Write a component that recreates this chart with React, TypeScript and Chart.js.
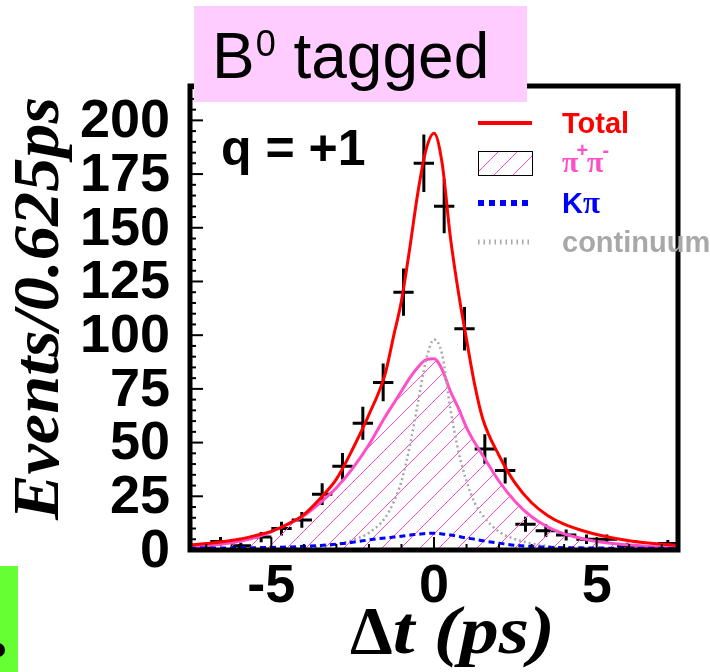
import React, { useEffect, useRef } from "react";
import { Chart, registerables } from "chart.js";
Chart.register(...registerables);

// Histogram (data points) — bin centres, counts and errors
const binCenters = [-7.1875, -6.5625, -5.9375, -5.3125, -4.6875, -4.0625, -3.4375, -2.8125, -2.1875, -1.5625, -0.9375, -0.3125,
  0.3125, 0.9375, 1.5625, 2.1875, 2.8125, 3.4375, 4.0625, 4.6875, 5.3125, 5.9375, 6.5625, 7.1875];
const binCounts = [1, 4, 2, 6, 10, 14, 26, 39, 59, 78, 120, 180, 160, 103, 47, 37, 12, 9, 7, 5, 5, 2, 1, 3];
const binErrors = [1, 2, 1.4, 2.4, 3.2, 3.7, 5.1, 6.2, 7.7, 8.8, 11, 13.4, 12.6, 10.1, 6.9, 6.1, 3.5, 3, 2.6, 2.2, 2.2, 1.4, 1, 1.7];
const binHalfWidth = 0.3125;

// Fit curves
const curveT = [-7.5, -7, -6.5, -6, -5.5, -5, -4.5, -4, -3.5, -3, -2.5, -2, -1.5, -1.25, -1, -0.75, -0.5, -0.25, 0,
  0.25, 0.5, 0.75, 1, 1.25, 1.5, 2, 2.5, 3, 3.5, 4, 4.5, 5, 5.5, 6, 6.5, 7, 7.5];
const totalFit = [2.3, 3.0, 3.8, 5.0, 6.7, 8.7, 12, 16.5, 24, 33, 47, 63, 82, 99, 116, 140, 166, 186, 194,
  180, 146, 120, 98, 77, 61, 44, 31, 22, 16, 12, 9.3, 7.2, 5.6, 4.3, 3.4, 2.7, 2.2];
const pipiFit = [1.4, 2.0, 2.8, 4.0, 5.8, 8.5, 12, 16, 22, 29, 38, 49, 62, 68, 74, 80, 85, 88.5, 89,
  84, 74, 66, 57, 50, 44, 32, 22.5, 15.5, 10.7, 7.5, 5.5, 4, 3, 2.3, 1.8, 1.5, 1.3];
const kpiFit = [0.8, 0.9, 0.9, 1.0, 1.1, 1.2, 1.4, 1.7, 2.1, 2.7, 3.6, 4.7, 5.6, 6.0, 6.4, 6.9, 7.3, 7.7, 7.8,
  7.5, 7.0, 6.3, 5.6, 5.0, 4.3, 3.2, 2.2, 1.6, 1.3, 1.1, 1.0, 0.9, 0.85, 0.8, 0.8, 0.75, 0.7];
const continuumFit = [0.3, 0.3, 0.4, 0.4, 0.5, 0.6, 0.8, 1.0, 1.6, 2.6, 4.6, 8, 15, 22, 32, 48, 68, 88, 98,
  91, 66, 46, 32, 22, 16, 8.5, 5, 3, 1.8, 1.1, 0.8, 0.6, 0.5, 0.4, 0.4, 0.3, 0.3];

const yTickValues = [0, 25, 50, 75, 100, 125, 150, 175, 200];
const yTickLabels = ["0", "25", "50", "75", "100", "125", "150", "175", "200"];
const xTickValues = [-5, 0, 5];
const xTickLabels = ["-5", "0", "5"];
const legendLabels = ["Total", "\u03c0+\u03c0-", "K\u03c0", "continuum"];

const SANS = '"Liberation Sans", Arial, sans-serif';
const SERIF = '"Liberation Serif", "Times New Roman", serif';
const RED = "#ff0000";
const PINK = "#ff4fc8";
const BLUE = "#0000ff";
const GREY = "#a8a8a8";
const HATCH_STEP = 19;

function hatchRegion(ctx: CanvasRenderingContext2D, left: number, top: number, right: number, bottom: number) {
  const h = bottom - top;
  ctx.save();
  ctx.strokeStyle = PINK;
  ctx.lineWidth = 1;
  ctx.beginPath();
  const start = Math.floor((left - h) / HATCH_STEP) * HATCH_STEP;
  for (let x = start; x <= right; x += HATCH_STEP) {
    ctx.moveTo(x, bottom);
    ctx.lineTo(x + h, top);
  }
  ctx.stroke();
  ctx.restore();
}

const pts = (ys: number[]) => curveT.map((t, i) => ({ x: t, y: ys[i] }));

function fitText(ctx: CanvasRenderingContext2D, text: string, x: number, y: number, width: number) {
  const w = ctx.measureText(text).width;
  ctx.save();
  ctx.translate(x, y);
  ctx.scale(width / w, 1);
  ctx.fillText(text, 0, 0);
  ctx.restore();
}

export default function App() {
  const ref = useRef<HTMLCanvasElement>(null);
  useEffect(() => {
    const canvas = ref.current;
    if (!canvas) return;

    const rootPlugin = {
      id: "rootStyle",
      beforeDatasetsDraw(chart: any) {
        const { ctx, chartArea: a } = chart;
        const xs = chart.scales.x, ys = chart.scales.y;
        ctx.save();
        ctx.beginPath();
        ctx.rect(a.left, a.top, a.right - a.left, a.bottom - a.top);
        ctx.clip();
        // data points with error bars
        ctx.strokeStyle = "#000";
        ctx.lineWidth = 3;
        binCenters.forEach((c, i) => {
          const v = binCounts[i];
          const e = binErrors[i];
          const px = xs.getPixelForValue(c);
          const x0 = xs.getPixelForValue(c - binHalfWidth);
          const x1 = xs.getPixelForValue(c + binHalfWidth);
          const py = ys.getPixelForValue(v);
          const pt = ys.getPixelForValue(v + e);
          const pb = ys.getPixelForValue(Math.max(0, v - e));
          ctx.beginPath();
          ctx.moveTo(x0, py);
          ctx.lineTo(x1, py);
          ctx.moveTo(px, pt);
          ctx.lineTo(px, pb);
          ctx.stroke();
        });
        // hatched pi+pi- area, clipped to the library's line path
        const meta = chart.getDatasetMeta(3);
        const line = meta.dataset;
        if (line) {
          line.updateControlPoints(a, "x");
          const p = line.points;
          const y0 = ys.getPixelForValue(0);
          ctx.beginPath();
          line.path(ctx);
          ctx.lineTo(p[p.length - 1].x, y0);
          ctx.lineTo(p[0].x, y0);
          ctx.closePath();
          ctx.clip();
          hatchRegion(ctx, a.left, ys.getPixelForValue(95), a.right, y0);
        }
        ctx.restore();
      },
      afterDatasetsDraw(chart: any) {
        const { ctx, chartArea: a } = chart;
        const xs = chart.scales.x, ys = chart.scales.y;
        ctx.save();
        // ticks
        ctx.strokeStyle = "#000";
        ctx.lineWidth = 2;
        for (let v = 0; v <= 215; v += 5) {
          const y = ys.getPixelForValue(v);
          const len = v % 25 === 0 ? 13 : 6;
          ctx.beginPath();
          ctx.moveTo(a.left, y);
          ctx.lineTo(a.left + len, y);
          ctx.stroke();
        }
        for (let t = -7; t <= 7; t += 1) {
          const x = xs.getPixelForValue(t);
          const len = t % 5 === 0 ? 13 : 6;
          ctx.beginPath();
          ctx.moveTo(x, a.bottom);
          ctx.lineTo(x, a.bottom - len);
          ctx.stroke();
        }
        // frame
        ctx.lineWidth = 5;
        ctx.strokeRect(a.left, a.top, a.right - a.left, a.bottom - a.top);

        // tick labels
        ctx.fillStyle = "#000";
        ctx.font = `bold 54px ${SANS}`;
        ctx.textAlign = "right";
        ctx.textBaseline = "middle";
        yTickValues.forEach((v, i) => {
          ctx.fillText(yTickLabels[i], 170, ys.getPixelForValue(v) + 2);
        });
        ctx.textAlign = "center";
        xTickValues.forEach((v, i) => {
          ctx.fillText(xTickLabels[i], xs.getPixelForValue(v), 587);
        });

        // axis titles
        ctx.textAlign = "left";
        ctx.textBaseline = "alphabetic";
        ctx.font = `bold 68px ${SERIF}`;
        ctx.fillText("\u0394", 350, 653);
        const dw = ctx.measureText("\u0394").width;
        ctx.font = `italic bold 68px ${SERIF}`;
        fitText(ctx, "t (ps)", 350 + dw, 653, 555 - 350 - dw);
        ctx.save();
        ctx.translate(58, 520);
        ctx.rotate(-Math.PI / 2);
        ctx.font = `italic bold 66px ${SERIF}`;
        fitText(ctx, "Events/0.625ps", 0, 0, 423);
        ctx.restore();

        // q = +1
        ctx.font = `bold 50px ${SANS}`;
        ctx.fillText("q = +1", 221, 165);

        // legend
        const lx0 = 478, lx1 = 532, tx = 562;
        ctx.lineCap = "butt";
        ctx.strokeStyle = RED;
        ctx.lineWidth = 4;
        ctx.beginPath();
        ctx.moveTo(lx0, 123);
        ctx.lineTo(lx1, 123);
        ctx.stroke();
        ctx.save();
        ctx.beginPath();
        ctx.rect(lx0, 151, lx1 - lx0, 24);
        ctx.clip();
        hatchRegion(ctx, lx0, 151, lx1, 175);
        ctx.restore();
        ctx.strokeStyle = "#000";
        ctx.lineWidth = 1;
        ctx.strokeRect(lx0 + 0.5, 151.5, lx1 - lx0, 24);
        ctx.strokeStyle = BLUE;
        ctx.lineWidth = 6;
        ctx.setLineDash([6, 5]);
        ctx.beginPath();
        ctx.moveTo(lx0, 203);
        ctx.lineTo(lx1, 203);
        ctx.stroke();
        ctx.strokeStyle = GREY;
        ctx.lineWidth = 5;
        ctx.setLineDash([1.5, 4]);
        ctx.beginPath();
        ctx.moveTo(lx0, 242);
        ctx.lineTo(lx1, 242);
        ctx.stroke();
        ctx.setLineDash([]);

        ctx.textBaseline = "alphabetic";
        ctx.textAlign = "left";
        ctx.font = `bold 29px ${SANS}`;
        ctx.fillStyle = RED;
        ctx.fillText(legendLabels[0], tx, 133);
        // pi+ pi-
        ctx.fillStyle = PINK;
        ctx.font = `bold 30px ${SERIF}`;
        let x = tx;
        ctx.fillText("\u03c0", x, 172);
        x += ctx.measureText("\u03c0").width;
        ctx.font = `bold 20px ${SANS}`;
        ctx.fillText("+", x - 2, 157);
        x += ctx.measureText("+").width - 3;
        ctx.font = `bold 30px ${SERIF}`;
        ctx.fillText("\u03c0", x, 172);
        x += ctx.measureText("\u03c0").width;
        ctx.font = `bold 20px ${SANS}`;
        ctx.fillText("-", x - 1, 157);
        // K pi
        ctx.fillStyle = BLUE;
        ctx.font = `bold 29px ${SANS}`;
        ctx.fillText("K", tx, 213);
        const kw = ctx.measureText("K").width;
        ctx.font = `bold 31px ${SERIF}`;
        ctx.fillText("\u03c0", tx + kw, 213);
        ctx.fillStyle = GREY;
        ctx.font = `bold 29px ${SANS}`;
        ctx.fillText(legendLabels[3], tx, 252);

        // title box
        ctx.fillStyle = "#ffccff";
        ctx.fillRect(194, 6, 333, 96);
        ctx.fillStyle = "#000";
        ctx.font = `64px ${SANS}`;
        ctx.fillText("B", 212, 78);
        let bx = 212 + ctx.measureText("B").width + 1;
        ctx.font = `36px ${SANS}`;
        ctx.fillText("0", bx, 56);
        bx += ctx.measureText("0").width;
        ctx.font = `64px ${SANS}`;
        ctx.fillText(" tagged", bx, 78);

        // green fragment at bottom-left
        ctx.fillStyle = "#66ff33";
        ctx.fillRect(0, 566, 18, 106);
        ctx.fillStyle = "#000";
        ctx.beginPath();
        ctx.arc(-2, 650, 7, 0, Math.PI * 2);
        ctx.fill();
        ctx.restore();
      },
    };

    const chart = new Chart(canvas, {
      type: "line",
      data: {
        datasets: [
          {
            label: "Total",
            data: pts(totalFit),
            borderColor: RED,
            borderWidth: 3,
            pointRadius: 0,
            fill: false,
            cubicInterpolationMode: "monotone",
            order: 0,
          },
          {
            label: "Kpi",
            data: pts(kpiFit),
            borderColor: BLUE,
            borderWidth: 3,
            borderDash: [6, 4],
            pointRadius: 0,
            fill: false,
            cubicInterpolationMode: "monotone",
            order: 1,
          },
          {
            label: "continuum",
            data: pts(continuumFit),
            borderColor: GREY,
            borderWidth: 2.5,
            borderDash: [2, 3],
            pointRadius: 0,
            fill: false,
            cubicInterpolationMode: "monotone",
            order: 2,
          },
          {
            label: "pipi",
            data: pts(pipiFit),
            borderColor: PINK,
            borderWidth: 3,
            pointRadius: 0,
            fill: false,
            cubicInterpolationMode: "monotone",
            order: 3,
          },
        ],
      },
      options: {
        animation: false,
        responsive: false,
        devicePixelRatio: 1,
        layout: { padding: { left: 190, right: 32, top: 86, bottom: 122 } },
        plugins: { legend: { display: false }, tooltip: { enabled: false }, title: { display: false } },
        events: [],
        scales: {
          x: { type: "linear", min: -7.5, max: 7.5, display: false },
          y: { type: "linear", min: 0, max: 216, display: false },
        },
      },
      plugins: [rootPlugin],
    } as any);
    return () => chart.destroy();
  }, []);

  return (
    <div style={{ position: "fixed", left: 0, top: 0, width: 710, height: 672, background: "#fff" }}>
      <canvas ref={ref} width={710} height={672} style={{ display: "block" }} />
    </div>
  );
}
